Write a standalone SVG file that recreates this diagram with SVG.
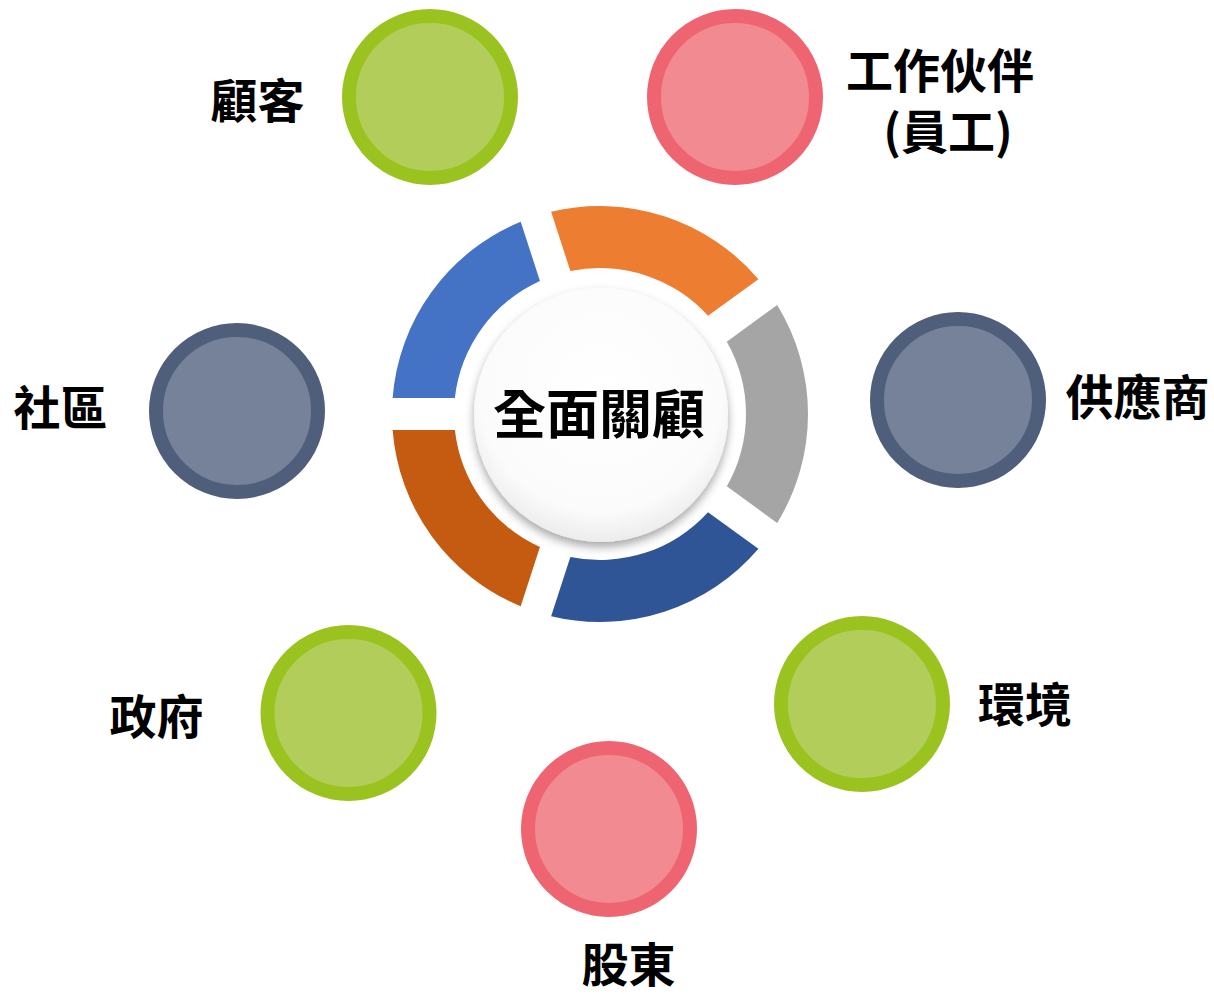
<svg xmlns="http://www.w3.org/2000/svg" width="1214" height="994" viewBox="0 0 1214 994">
<style>
.lbl{font-family:"Noto Sans CJK TC","Noto Sans CJK SC",sans-serif;font-weight:bold;font-size:47px;fill:#000;text-anchor:middle}
.g{fill:#b3cd5a;stroke:#9bc320;stroke-width:14}
.r{fill:#f28a91;stroke:#ee6470;stroke-width:14}
.s{fill:#76829a;stroke:#4f5f7b;stroke-width:14}
</style>
<defs>
<filter id="sh" x="-20%" y="-20%" width="140%" height="150%">
<feDropShadow dx="0" dy="5" stdDeviation="5" flood-color="#000" flood-opacity="0.35"/>
</filter>
<radialGradient id="wg" cx="50%" cy="40%" r="60%">
<stop offset="0" stop-color="#ffffff"/>
<stop offset="0.8" stop-color="#fbfbfb"/>
<stop offset="1" stop-color="#ececec"/>
</radialGradient>
</defs>
<rect width="1214" height="994" fill="#fff"/>
<g id="ring">
<path d="M392.62,398 A208,208 0 0 1 520.7,221.71 L539.94,280.94 A146,146 0 0 0 454.88,398 Z" fill="#4472c4"/>
<path d="M551.13,211.82 A208,208 0 0 1 758.41,279.19 L708,315.76 A146,146 0 0 0 570.37,271.04 Z" fill="#ed7d31"/>
<path d="M777.18,305.04 A208,208 0 0 1 777.18,522.96 L726.81,486.36 A146,146 0 0 0 726.81,341.64 Z" fill="#a5a5a5"/>
<path d="M758.41,548.81 A208,208 0 0 1 551.13,616.18 L570.37,556.96 A146,146 0 0 0 708,512.24 Z" fill="#2f5597"/>
<path d="M520.7,606.29 A208,208 0 0 1 392.62,430 L454.88,430 A146,146 0 0 0 539.94,547.06 Z" fill="#c55a11"/>
</g>
<g id="center">
<circle cx="601" cy="415" r="127" fill="url(#wg)" filter="url(#sh)"/>
<text x="599" y="434" class="lbl" style="font-size:53px">全面關顧</text>
</g>
<g id="customers">
<circle cx="430" cy="97" r="81" class="g"/>
<text x="257.5" y="118" class="lbl">顧客</text>
</g>
<g id="partners">
<circle cx="735" cy="97" r="81" class="r"/>
<text class="lbl"><tspan x="940" y="88">工作伙伴</tspan><tspan x="948" y="149">(員工)</tspan></text>
</g>
<g id="suppliers">
<circle cx="958" cy="400" r="81" class="s"/>
<text x="1137.5" y="415" class="lbl" style="font-size:48px">供應商</text>
</g>
<g id="community">
<circle cx="237" cy="411" r="81" class="s"/>
<text x="60.5" y="425" class="lbl">社區</text>
</g>
<g id="government">
<circle cx="348.5" cy="713" r="81" class="g"/>
<text x="156.5" y="734" class="lbl">政府</text>
</g>
<g id="environment">
<circle cx="862" cy="704" r="81" class="g"/>
<text x="1025" y="722" class="lbl">環境</text>
</g>
<g id="shareholders">
<circle cx="609" cy="829" r="81" class="r"/>
<text x="628.5" y="982" class="lbl">股東</text>
</g>
<g id="connectors"/>
</svg>
